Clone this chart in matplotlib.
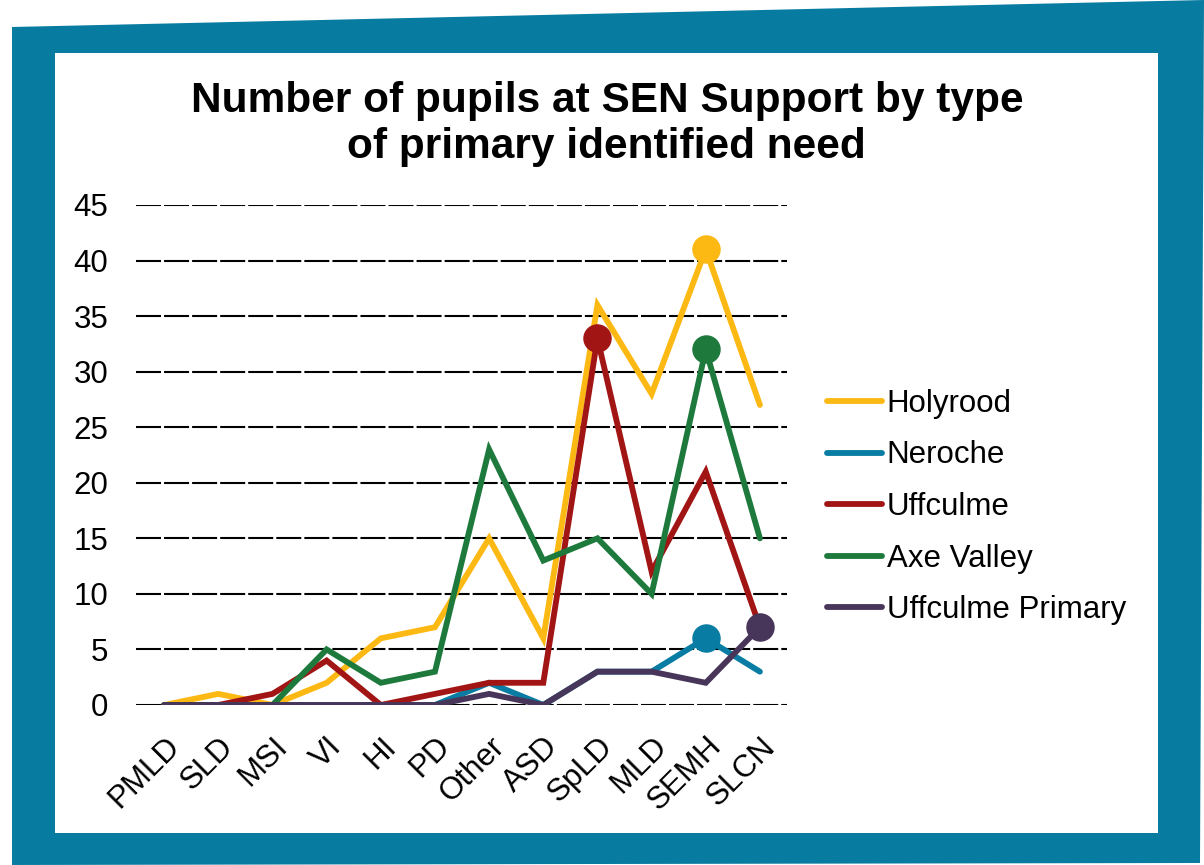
import matplotlib
matplotlib.use("Agg")
import matplotlib.pyplot as plt
from matplotlib.patches import Polygon, Rectangle

plt.rcParams['font.family'] = ['Liberation Sans', 'DejaVu Sans']
plt.rcParams['lines.scale_dashes'] = False

categories = ["PMLD", "SLD", "MSI", "VI", "HI", "PD", "Other", "ASD", "SpLD", "MLD", "SEMH", "SLCN"]
holyrood = [0, 1, 0, 2, 6, 7, 15, 6, 36, 28, 41, 27]
neroche = [0, 0, 0, 0, 0, 0, 2, 0, 3, 3, 6, 3]
uffculme = [0, 0, 1, 4, 0, 1, 2, 2, 33, 12, 21, 7]
axe_valley = [0, 0, 0, 5, 2, 3, 23, 13, 15, 10, 32, 15]
uffculme_primary = [0, 0, 0, 0, 0, 0, 1, 0, 3, 3, 2, 7]

series = [
    ("Holyrood", holyrood, "#FDB913"),
    ("Neroche", neroche, "#087CA2"),
    ("Uffculme", uffculme, "#A11515"),
    ("Axe Valley", axe_valley, "#1E7A3C"),
    ("Uffculme Primary", uffculme_primary, "#47365A"),
]

W, H = 1204, 865
fig = plt.figure(figsize=(W / 100, H / 100), dpi=100)

def fx(x):
    return x / W

def fy(y):
    return 1 - y / H

frame_col = "#077BA0"
outer = Polygon([(fx(12), fy(865)), (fx(12), fy(27)), (fx(1204), fy(0)),
                 (fx(1200), fy(863)), (fx(0), fy(865))],
                closed=True, transform=fig.transFigure, facecolor=frame_col,
                edgecolor="none", zorder=-3)
fig.patches.append(outer)
inner = Rectangle((fx(55), fy(833)), fx(1158) - fx(55), fy(53) - fy(833),
                  transform=fig.transFigure, facecolor="white", edgecolor="none", zorder=-2)
fig.patches.append(inner)

ax = fig.add_axes([fx(136), fy(705), fx(787) - fx(136), fy(205) - fy(705)])
ax.set_facecolor("none")
x = list(range(len(categories)))

for name, vals, col in series:
    ax.plot(x, vals, color=col, lw=4.2, solid_capstyle="round", solid_joinstyle="miter",
            label=name, zorder=3)
    i = max(range(len(vals)), key=lambda k: vals[k])
    ax.plot([x[i]], [vals[i]], "o", color=col, ms=19.5, zorder=4)

ax.set_xlim(-0.52, 11.5)
ax.set_ylim(0, 45)
ax.set_yticks(range(0, 46, 5))
ax.set_xticks(x)
ax.set_xticklabels(categories, rotation=45, ha="right", va="top",
                   rotation_mode="anchor", fontsize=22.5)
ax.tick_params(axis="y", labelsize=22.5, length=0, pad=20)
ax.tick_params(axis="x", length=0, pad=19)
ax.grid(axis="y", color="black", lw=1.5, linestyle=(0, (18, 2.2)), zorder=1)
ax.set_axisbelow(True)
for s in ax.spines.values():
    s.set_visible(False)

fig.text(0.504, fy(124), "Number of pupils at SEN Support by type\nof primary identified need",
         ha="center", va="center", fontsize=30.5, fontweight="bold", linespacing=1.19)

handles, labels = ax.get_legend_handles_labels()
leg = fig.legend(handles, labels, loc="center left", bbox_to_anchor=(fx(827), fy(507)),
                 frameon=False, fontsize=22.5, handlelength=1.75, handletextpad=0.16,
                 labelspacing=0.69, borderaxespad=0, borderpad=0)

fig.savefig("out.png", dpi=100)
